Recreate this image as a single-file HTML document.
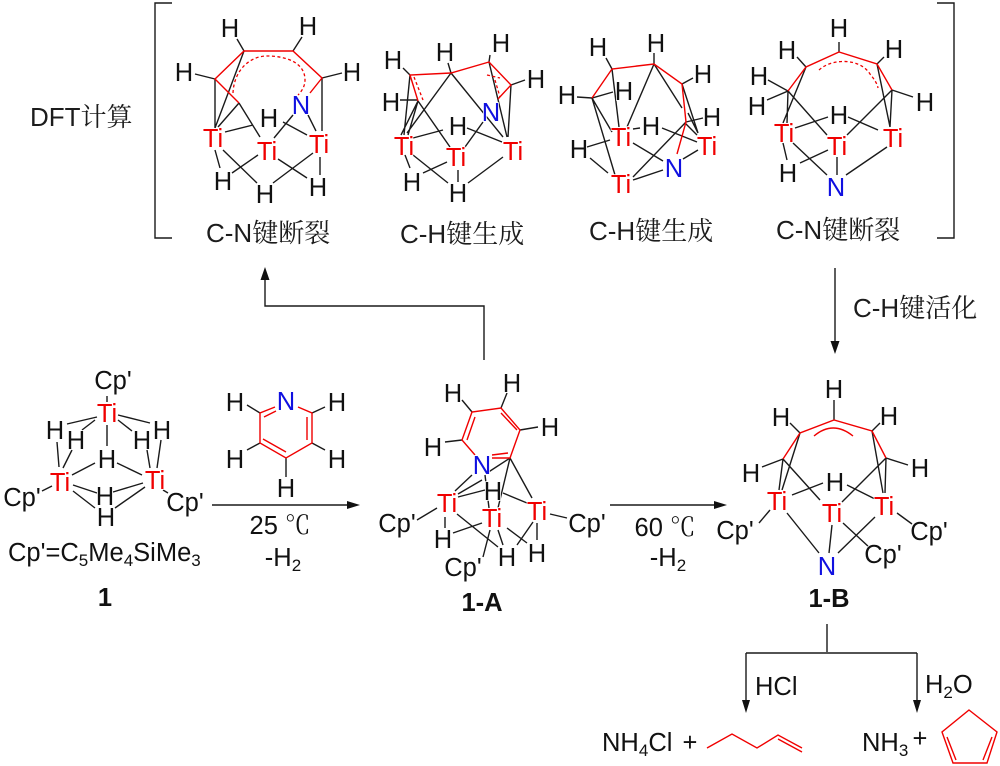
<!DOCTYPE html>
<html><head><meta charset="utf-8"><style>
html,body{margin:0;padding:0;background:#fff;width:1000px;height:766px;overflow:hidden}
svg{display:block}
text{font-family:"Liberation Sans","Noto Sans CJK SC",sans-serif;font-size:25.500px;fill:#111;text-anchor:middle;stroke:#fff;stroke-width:1.500px;paint-order:stroke}
.r{fill:#f00000}.b{fill:#1010e0}.l{text-anchor:start}
.c{font-family:"Liberation Sans","Noto Serif CJK SC",serif;text-anchor:start;font-size:26px;fill:#1c1c1c;stroke:none}
.t{font-family:"Liberation Sans","Noto Serif CJK SC",serif;stroke:none}
.bd{font-weight:bold;stroke:none}
.k{stroke:#1a1a1a;stroke-width:1.400;fill:none}
.rd{stroke:#f00000;stroke-width:1.400;fill:none}
.da{stroke:#f00000;stroke-width:1.300;fill:none;stroke-dasharray:3 2.500}
</style></head><body>
<svg width="1000" height="766" viewBox="0 0 1000 766" xmlns="http://www.w3.org/2000/svg">
<!-- brackets -->
<path class="k" d="M172,3H155V238H172M937,3H954V238H937"/>
<!-- A -->
<path class="k" d="M195,74L215,79M237,39L244,51M293,51L302,37M322,78L342,73M215,79V128M244,51L215,128M239,103L218,127M239,103L260,137M322,78V131M308,115L316,131M293,115L274,138M225,132L253,125M283,122L307,135M215,150L220,168M223,150L257,183M232,173L258,155M278,159L307,178M273,183L313,153M320,157V175"/>
<path class="rd" d="M239,103L215,79L244,51H293L322,78L310,93"/>
<path class="da" d="M233,93C234,70 250,56 267,56C285,56 305,62 305,80C305,86 302,91 298,95"/>
<!-- B -->
<path class="k" d="M403,68L410,75M448,63L451,73M490,55L489,62M511,85L525,80M489,62L507,137M511,85L508,137M451,73L503,137M451,73L407,133M410,75L404,135M418,101L408,135M418,101L450,147M400,100H418M418,101L401,135M413,138L443,130M467,128L502,142M483,122L465,147M405,155L410,168M413,155L448,183M423,173L447,162M458,170V182M468,183L503,157"/>
<path class="rd" d="M418,101L410,75L451,73L489,62L511,85L498,99"/>
<path class="da" d="M414,77L423,100M487,75L500,78M495,80L500,97"/>
<!-- C -->
<path class="k" d="M606,58L612,69M654,53V64M682,84L693,78M577,97L592,98L613,92M592,98L612,132M592,98L615,175M612,69L619,127M654,64L627,127M654,64L682,108M682,84L698,133M688,113L698,133M686,122L703,118M686,122L633,177M685,123L697,135M633,129L640,128M662,128L697,142M587,147L610,140M590,158L608,173M633,143L663,161M683,159L698,150M633,180L663,170"/>
<path class="rd" d="M592,98L612,69L654,64L682,84L686,122L677,154"/>
<!-- D -->
<path class="k" d="M797,57L806,67M839,42V52M884,57L877,64M892,90L913,97M768,80L788,91L767,100M788,91L787,123M806,67L783,123M788,91L827,135M877,64L890,127M892,90L890,127M892,90L847,135M795,128L828,117M848,117L878,130M783,143L787,160M793,143L827,175M800,163L828,150M837,157V175M846,175L887,147"/>
<path class="rd" d="M788,91L806,67L839,52L877,64L892,90"/>
<path class="da" d="M819,70C832,58 860,58 870,74C874,79 877,83 878,88"/>
<!-- long arrows -->
<path class="k" d="M484,360V306H265V275M835,268V345M212,505H350M610,505H717M827,624V652M746,653H917M746,653V702M917,653V702"/>
<path d="M265,267l-4.500,13h9zM835,354l-4.500,-13h9zM360,505l-13,-4v8zM727,505l-13,-4v8zM746,713l-4,-13h8zM917,713l-4,-13h8z" fill="#111"/>
<!-- 1 -->
<path class="k" d="M107,396V402M97,417L67,424M95,420L82,430M107,425V446M118,415L150,423M118,420L132,431M57,442L59,467M72,450L63,468M147,450L150,468M161,440L157,468M72,475L95,463M117,463L142,475M42,491L52,486M163,490L168,493M73,485L97,493M73,491L95,508M113,492L143,483M115,508L145,487"/>
<!-- pyridine -->
<path class="k" d="M247,405L260,413M312,413L325,407M247,450L260,443M312,443L325,450M286,458V477"/>
<path class="rd" d="M275,407L260,413V443L286,458L312,443V413L298,407M264,417L276,411M307,417V440M263,439L286,452"/>
<!-- 1-A -->
<path class="k" d="M462,400L472,412M507,393L501,408M520,430L538,427M445,442L462,440M510,458L487,473M510,458L498,508M510,458L532,498M472,475L455,491M482,480L458,494M485,475L489,508M485,490L458,497M503,493L527,503M417,520L437,508M445,517V528M457,514L498,547M453,533L482,523M490,530L483,557M498,530L503,545M507,528L527,543M517,545L533,522M537,523V540M550,514L567,518"/>
<path class="rd" d="M475,455L462,440L472,412L501,408L520,430L510,458H492M467,440L475,417M501,413L517,430M492,455L508,453"/>
<!-- 1-B -->
<path class="k" d="M790,423L800,433M834,400V420M880,423L872,431M886,458L908,465M762,467L783,459M783,459L779,490M800,433L782,490M783,459L820,500M872,431L883,493M886,458L885,493M886,458L842,502M792,495L823,483M847,485L875,499M770,510L759,523M787,513L819,553M832,525L829,553M838,553L875,517M843,523L870,548M897,513L912,524"/>
<path class="rd" d="M783,459L800,433L834,420L872,431L886,458M814,436Q833,420 853,436"/>
<!-- products -->
<path class="rd" d="M707,748L732,734L757,748L778,735L802,748M778,739L802,752M969,710L997,732L987,763H953L942,732ZM947,737L956,760M992,737L983,760"/>
<!-- A text -->
<text x="230" y="37">H</text><text x="308" y="35">H</text><text x="184" y="81">H</text><text x="352" y="81">H</text><text class="b" x="301" y="114">N</text><text class="r" x="213" y="147">Ti</text><text class="r" x="267" y="160">Ti</text><text class="r" x="319" y="153">Ti</text><text x="223" y="190">H</text><text x="265" y="203">H</text><text x="318" y="196">H</text><text x="269" y="127">H</text>
<!-- B text -->
<text x="393" y="69">H</text><text x="445" y="61">H</text><text x="501" y="52">H</text><text x="536" y="88">H</text><text x="391" y="111">H</text><text class="b" x="491" y="121">N</text><text x="458" y="135">H</text><text class="r" x="404" y="155">Ti</text><text class="r" x="456" y="166">Ti</text><text class="r" x="513" y="160">Ti</text><text x="412" y="191">H</text><text x="458" y="202">H</text>
<!-- C text -->
<text x="598" y="56">H</text><text x="656" y="52">H</text><text x="703" y="83">H</text><text x="567" y="104">H</text><text x="624" y="100">H</text><text x="712" y="126">H</text><text x="651" y="135">H</text><text class="r" x="621" y="146">Ti</text><text class="r" x="707" y="155">Ti</text><text x="579" y="158">H</text><text class="b" x="674" y="177">N</text><text class="r" x="621" y="193">Ti</text>
<!-- D text -->
<text x="839" y="37">H</text><text x="787" y="59">H</text><text x="894" y="58">H</text><text x="759" y="85">H</text><text x="757" y="115">H</text><text x="925" y="111">H</text><text x="839" y="124">H</text><text class="r" x="784" y="142">Ti</text><text class="r" x="837" y="155">Ti</text><text class="r" x="893" y="147">Ti</text><text x="788" y="182">H</text><text class="b" x="836" y="196">N</text>
<!-- captions -->
<text class="c" x="30" y="126">DFT计算</text>
<text class="c" x="206" y="242">C-N键断裂</text>
<text class="c" x="400" y="243">C-H键生成</text>
<text class="c" x="589" y="240">C-H键生成</text>
<text class="c" x="776" y="239">C-N键断裂</text>
<text class="c" x="853" y="317">C-H键活化</text>
<!-- 1 text -->
<text x="113" y="389">Cp'</text><text class="r" x="107" y="422">Ti</text><text x="55" y="439">H</text><text x="76" y="449">H</text><text x="142" y="449">H</text><text x="162" y="439">H</text><text x="107" y="468">H</text><text class="r" x="60" y="491">Ti</text><text class="r" x="155" y="489">Ti</text><text x="22" y="506">Cp'</text><text x="185" y="511">Cp'</text><text x="105" y="505">H</text><text x="106" y="526">H</text>
<text class="l" x="8" y="561">Cp'=C<tspan font-size="17" dy="5">5</tspan><tspan dy="-5">Me</tspan><tspan font-size="17" dy="5">4</tspan><tspan dy="-5">SiMe</tspan><tspan font-size="17" dy="5">3</tspan></text>
<text class="bd" x="105" y="606">1</text>
<!-- pyridine text -->
<text class="b" x="286" y="410">N</text><text x="235" y="411">H</text><text x="337" y="411">H</text><text x="235" y="468">H</text><text x="337" y="468">H</text><text x="286" y="497">H</text>
<text class="t" x="280" y="534">25 ℃</text>
<text x="283" y="566">-H<tspan font-size="17" dy="5">2</tspan></text>
<!-- 1-A text -->
<text x="453" y="402">H</text><text x="512" y="392">H</text><text x="550" y="436">H</text><text x="433" y="456">H</text><text class="b" x="482" y="474">N</text><text class="r" x="447" y="512">Ti</text><text class="r" x="492" y="527">Ti</text><text class="r" x="537" y="520">Ti</text><text x="493" y="500">H</text><text x="443" y="548">H</text><text x="507" y="566">H</text><text x="537" y="562">H</text><text x="397" y="532">Cp'</text><text x="463" y="576">Cp'</text><text x="587" y="532">Cp'</text>
<text class="bd" x="482" y="611">1-A</text>
<text class="t" x="665" y="536">60 ℃</text>
<text x="668" y="566">-H<tspan font-size="17" dy="5">2</tspan></text>
<!-- 1-B text -->
<text x="834" y="398">H</text><text x="781" y="426">H</text><text x="889" y="425">H</text><text x="751" y="482">H</text><text x="920" y="477">H</text><text x="835" y="491">H</text><text class="r" x="777" y="510">Ti</text><text class="r" x="832" y="522">Ti</text><text class="r" x="884" y="515">Ti</text><text x="735" y="539">Cp'</text><text x="929" y="540">Cp'</text><text x="883" y="563">Cp'</text><text class="b" x="827" y="575">N</text>
<text class="bd" x="829" y="607">1-B</text>
<!-- products text -->
<text class="l" x="755" y="695">HCl</text>
<text class="l" x="925" y="693">H<tspan font-size="17" dy="5">2</tspan><tspan dy="-5">O</tspan></text>
<text class="l" x="602" y="751">NH<tspan font-size="17" dy="5">4</tspan><tspan dy="-5">Cl</tspan></text>
<text x="690" y="751" font-size="28">+</text>
<text class="l" x="862" y="751">NH<tspan font-size="17" dy="5">3</tspan></text>
<text x="920" y="747" font-size="28">+</text>
</svg>
</body></html>
